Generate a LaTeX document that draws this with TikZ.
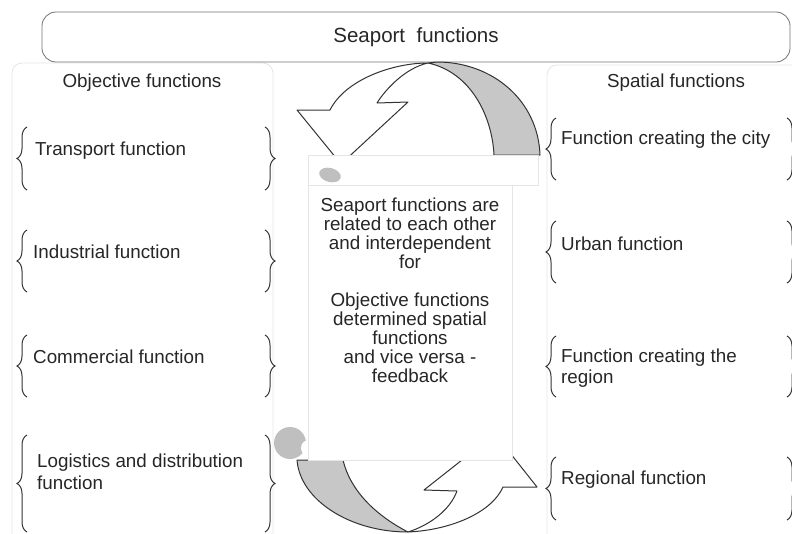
\documentclass[tikz,border=0pt]{standalone}
\usepackage{fontspec}
\setmainfont{Liberation Sans}
\usetikzlibrary{decorations.pathreplacing}

\newcommand{\itemfont}{\fontsize{18.8}{21.5}\selectfont}
\definecolor{bandgray}{gray}{0.78}

\tikzset{
  fbrace/.style={decorate,decoration={brace,amplitude=10pt},draw=black!80,line width=1pt},
  panel/.style={draw=black!10,line width=.8pt,rounded corners=10pt},
  ribbon/.style={draw=black!80,line width=1pt,line join=round},
}

\begin{document}
\begin{tikzpicture}[x=1pt,y=-1pt]
  \useasboundingbox (0,0) rectangle (792,533);

  % side panels
  \draw[panel] (12,63) rectangle (273,550);
  \draw[panel] (547,65) rectangle (810,550);

  % title
  \node[draw=black!55,line width=.8pt,rounded corners=14pt,minimum width=748pt,
        minimum height=50pt,font=\fontsize{20.5}{24}\selectfont,text=black!85]
    (title) at (416,37) {Seaport\ \ functions};

  % upper curved arrow
  \fill[bandgray,ribbon] (437,62) .. controls (492,62) and (538,100) .. (540,155)
    -- (494,155) .. controls (492,115) and (470,72) .. (428,63) -- cycle;
  \filldraw[fill=white,ribbon] (428,63) .. controls (392,63) and (345,80) .. (330,110)
    -- (297,110) -- (341,164) -- (408,102) -- (377,103)
    .. controls (385,90) and (405,68) .. (428,63) -- cycle;

  % lower curved arrow
  \fill[bandgray,ribbon] (297,460) .. controls (300,500) and (350,532) .. (408,532)
    .. controls (375,515) and (350,490) .. (343,460) -- cycle;
  \filldraw[fill=white,ribbon] (408,532) .. controls (452,530) and (492,512) .. (503,487)
    -- (537,487) -- (495,434) -- (462,460) -- (424,490) -- (457,491)
    .. controls (450,510) and (430,525) .. (408,532) -- cycle;

  % centre box
  \fill[black!25] (290,443) circle (16pt);
  \fill[white] (309,448) circle (8pt);
  \filldraw[fill=white,draw=black!10,line width=.8pt] (308,155) rectangle (538,185);
  \filldraw[fill=white,draw=black!10,line width=.8pt] (308,185) rectangle (512,460);
  \fill[black!25,rotate around={-15:(330,175)}] (330,175) ellipse (11pt and 7pt);

  \begin{scope}[every node/.style={font=\itemfont,text=black!85}]
    \node (objective) at (142,83) {Objective functions};
    \node (spatial)   at (676,83) {Spatial functions};
    \node[align=center,font=\fontsize{18.8}{19}\selectfont] (feedback) at (410,290)
      {Seaport functions are\\related to each other\\and interdependent\\for\\[19pt]
       Objective functions\\determined spatial\\functions\hspace*{50pt}\\and vice versa -\\feedback};
  \end{scope}

  \begin{scope}[every node/.style={anchor=west,inner sep=0pt,align=left,font=\itemfont,text=black!85}]
    \node (transport)  at (35,151)  {Transport function};
    \node (industrial) at (33,252)  {Industrial function};
    \node (commercial) at (33,357)  {Commercial function};
    \node (logistics)  at (37,472)  {Logistics and distribution\\function};
    \node (city)       at (561,140) {Function creating the city};
    \node (urban)      at (561,244) {Urban function};
    \node (region)     at (561,368) {Function creating the\\region};
    \node (regional)   at (561,480) {Regional function};
  \end{scope}

  % braces
  \begin{scope}[every path/.style={fbrace}]
    \draw (27,190) -- (27,127);
    \draw (27,292) -- (27,230);
    \draw (27,397) -- (27,335);
    \draw (27,532) -- (27,435);
    \draw (265,127) -- (265,190);
    \draw (265,230) -- (265,292);
    \draw (265,335) -- (265,397);
    \draw (265,435) -- (265,532);
    \draw (556,180) -- (556,118);
    \draw (556,283) -- (556,221);
    \draw (556,397) -- (556,336);
    \draw (556,520) -- (556,457);
    \draw (787,118) -- (787,180);
    \draw (787,221) -- (787,283);
    \draw (787,336) -- (787,397);
    \draw (787,457) -- (787,520);
  \end{scope}

\end{tikzpicture}
\end{document}
